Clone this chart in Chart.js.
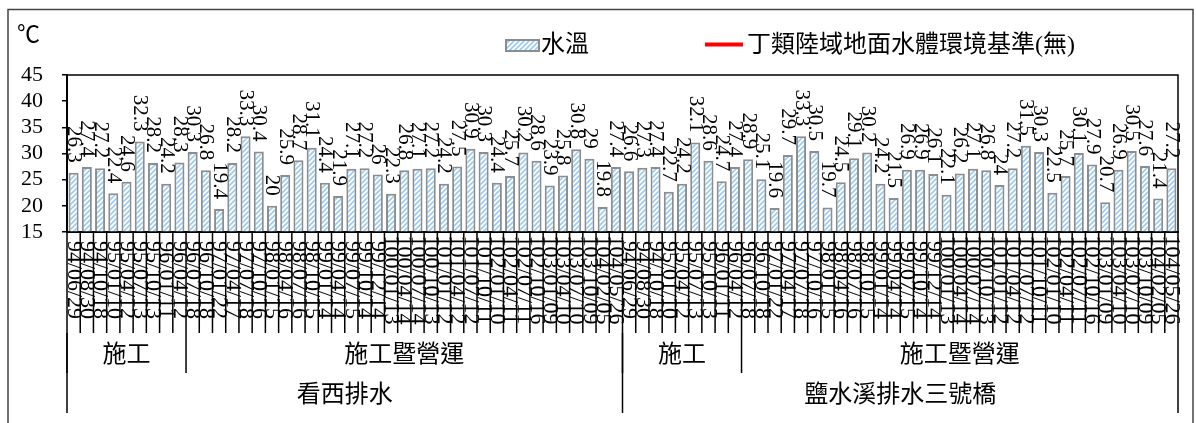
<!DOCTYPE html>
<html>
<head>
<meta charset="utf-8">
<script src="https://cdn.jsdelivr.net/npm/chart.js@4/dist/chart.umd.min.js"></script>
<style>
  html, body { margin: 0; padding: 0; background: #fff; }
</style>
</head>
<body>
<canvas id="chart" width="1196" height="423"></canvas>
<script>
// sampling dates (ROC calendar), same schedule at both stations
const dates = [
  '94/06/29', '94/08/30', '94/10/18',
  '95/01/10', '95/04/12', '95/07/13', '95/10/13',
  '96/01/11', '96/04/12', '96/07/18', '96/10/18',
  '97/01/22', '97/04/17', '97/07/18', '97/10/16',
  '98/01/15', '98/04/16', '98/07/16', '98/10/15',
  '99/01/14', '99/04/14', '99/07/15', '99/10/14', '99/12/14',
  '100/01/13', '100/04/14', '100/07/14', '100/10/13',
  '101/01/12', '101/04/12', '101/07/12', '101/10/11',
  '102/01/10', '102/04/11', '102/07/11', '102/10/16',
  '103/01/09', '103/04/10', '103/07/10', '103/10/09',
  '104/02/05', '104/05/26'
];
const kanxiTemps = [
  26.3, 27.4, 27.2, 22.4, 24.6, 32.3, 28.2, 24.2, 28.3,
  30.3, 26.8, 19.4, 28.2, 33.3, 30.4, 20, 25.9, 28.7, 31.1, 24.4,
  21.9, 27.1, 27.2, 26, 22.3, 26.8, 27.1, 27.2, 24.2, 27.5,
  30.9, 30.3, 24.4, 25.7, 30.2, 28.6, 23.9, 25.8, 30.8, 29, 19.8, 27.4
];
const yanshuiTemps = [
  26.6, 27.3, 27.4, 22.7, 24.2, 32.1, 28.6, 24.7, 27.4,
  28.9, 25.1, 19.6, 29.7, 33.3, 30.5, 19.7, 24.5, 29.1, 30.2, 24.2,
  21.5, 26.9, 26.9, 26.1, 22.1, 26.2, 27.1, 26.8, 24, 27.2,
  31.5, 30.3, 22.5, 25.7, 30.1, 27.9, 20.7, 26.9, 30.5, 27.6, 21.4, 27.2
];
const stations = ['看西排水', '鹽水溪排水三號橋'];
const phaseNames = ['施工', '施工暨營運'];
const phaseCounts = [9, 33];
const yTicks = [15, 20, 25, 30, 35, 40, 45];

const categories = dates.concat(dates);
const temps = kanxiTemps.concat(yanshuiTemps);
const standard = categories.map(() => null); // 無基準

const SERIF = '"Liberation Serif", "Noto Sans CJK TC", serif';
const CJK = '"Liberation Serif", "Noto Sans CJK TC", sans-serif';

const canvas = document.getElementById('chart');
const ctx = canvas.getContext('2d');

function makeHatch() {
  const p = document.createElement('canvas');
  p.width = 5; p.height = 5;
  const g = p.getContext('2d');
  g.fillStyle = '#ffffff';
  g.fillRect(0, 0, 5, 5);
  g.strokeStyle = '#9ccbf2';
  g.lineWidth = 1.6;
  g.beginPath();
  g.moveTo(-1, 6); g.lineTo(6, -1);
  g.moveTo(-3.5, 3.5); g.lineTo(3.5, -3.5);
  g.moveTo(1.5, 8.5); g.lineTo(8.5, 1.5);
  g.stroke();
  return ctx.createPattern(p, 'repeat');
}
const hatch = makeHatch();

// value labels, rotated clockwise, sitting above each bar
const barLabels = {
  id: 'barLabels',
  afterDatasetsDraw(chart) {
    const c = chart.ctx;
    const meta = chart.getDatasetMeta(0);
    c.save();
    c.fillStyle = '#000';
    c.font = '21px ' + SERIF;
    c.textAlign = 'right';
    c.textBaseline = 'middle';
    meta.data.forEach((bar, i) => {
      c.save();
      c.translate(bar.x, bar.y - 10);
      c.rotate(Math.PI / 2);
      c.fillText(String(temps[i]), 0, 0);
      c.restore();
    });
    c.restore();
  }
};

// frame, legend, unit and the multi-level category axis
const decorations = {
  id: 'decorations',
  afterDraw(chart) {
    const c = chart.ctx;
    const a = chart.chartArea;
    const xs = chart.scales.x;
    const step = xs.getPixelForValue(1) - xs.getPixelForValue(0);
    const edge = i => xs.getPixelForValue(i) - step / 2;

    c.save();
    // outer border
    c.strokeStyle = '#444';
    c.lineWidth = 1.5;
    c.beginPath();
    c.moveTo(8, 430); c.lineTo(8, 9.5); c.lineTo(1193, 9.5); c.lineTo(1193, 430);
    c.stroke();

    // plot frame
    c.strokeStyle = '#000';
    c.lineWidth = 1.5;
    c.strokeRect(a.left, a.top, a.right - a.left, a.bottom - a.top);

    // unit
    c.fillStyle = '#000';
    c.font = '23px "Noto Sans CJK TC", sans-serif';
    c.textAlign = 'left';
    c.textBaseline = 'middle';
    c.fillText('℃', 17, 33);

    // legend
    const ds = chart.data.datasets;
    c.fillStyle = ds[0].backgroundColor;
    c.fillRect(506, 40, 33, 11);
    c.strokeStyle = '#8d8d8d';
    c.lineWidth = 2;
    c.strokeRect(506, 40, 33, 11);
    c.fillStyle = '#000';
    c.font = '24px ' + CJK;
    c.fillText(ds[0].label, 541, 46);
    c.strokeStyle = ds[1].borderColor;
    c.lineWidth = 4;
    c.beginPath(); c.moveTo(705, 44.5); c.lineTo(743, 44.5); c.stroke();
    c.fillText(ds[1].label, 747, 46);

    // category separators
    c.strokeStyle = '#000';
    c.lineWidth = 1.5;
    c.beginPath();
    for (let i = 0; i <= categories.length; i++) {
      c.moveTo(edge(i), a.bottom); c.lineTo(edge(i), 333);
    }
    c.stroke();

    // date labels
    c.font = '22px ' + SERIF;
    c.textAlign = 'center';
    c.textBaseline = 'middle';
    categories.forEach((lab, i) => {
      c.save();
      c.translate(xs.getPixelForValue(i), 280);
      c.rotate(Math.PI / 2);
      c.fillText(lab, 0, 0);
      c.restore();
    });

    // phase and station levels
    c.font = '24px ' + CJK;
    let start = 0;
    stations.forEach(st => {
      const stStart = start;
      phaseNames.forEach((ph, k) => {
        const end = start + phaseCounts[k];
        c.beginPath();
        c.moveTo(edge(start), 333); c.lineTo(edge(start), 373);
        c.stroke();
        c.fillText(ph, (edge(start) + edge(end)) / 2, 356);
        start = end;
      });
      c.beginPath();
      c.moveTo(edge(stStart), 333); c.lineTo(edge(stStart), 413);
      c.stroke();
      c.fillText(st, (edge(stStart) + edge(start)) / 2, 396);
    });
    c.beginPath();
    c.moveTo(edge(start), 333); c.lineTo(edge(start), 413);
    c.stroke();
    c.restore();
  }
};

new Chart(canvas, {
  data: {
    labels: categories,
    datasets: [
      {
        type: 'bar',
        label: '水溫',
        data: temps,
        backgroundColor: hatch,
        borderColor: '#8d8d8d',
        borderWidth: 2,
        borderSkipped: 'bottom',
        barPercentage: 0.76,
        categoryPercentage: 1.0
      },
      {
        type: 'line',
        label: '丁類陸域地面水體環境基準(無)',
        data: standard,
        borderColor: '#ff0000',
        borderWidth: 3,
        pointRadius: 0
      }
    ]
  },
  options: {
    responsive: false,
    animation: false,
    layout: { padding: { left: 18, right: 18, top: 75, bottom: 191 } },
    plugins: {
      legend: { display: false },
      tooltip: { enabled: false }
    },
    scales: {
      x: {
        offset: true,
        ticks: { display: false },
        grid: { display: false },
        border: { color: '#000', width: 2 },
        afterFit(s) { s.height = 0; }
      },
      y: {
        min: 15,
        max: 45,
        afterBuildTicks(s) { s.ticks = yTicks.map(v => ({ value: v })); },
        ticks: { autoSkip: false, color: '#000', font: { family: SERIF, size: 22 }, padding: 19 },
        grid: { drawOnChartArea: false, drawTicks: true, tickLength: 5, color: '#000', lineWidth: 1.5 },
        border: { color: '#000', width: 2 },
        afterFit(s) { s.width = 49; }
      }
    }
  },
  plugins: [barLabels, decorations]
});
</script>
</body>
</html>
